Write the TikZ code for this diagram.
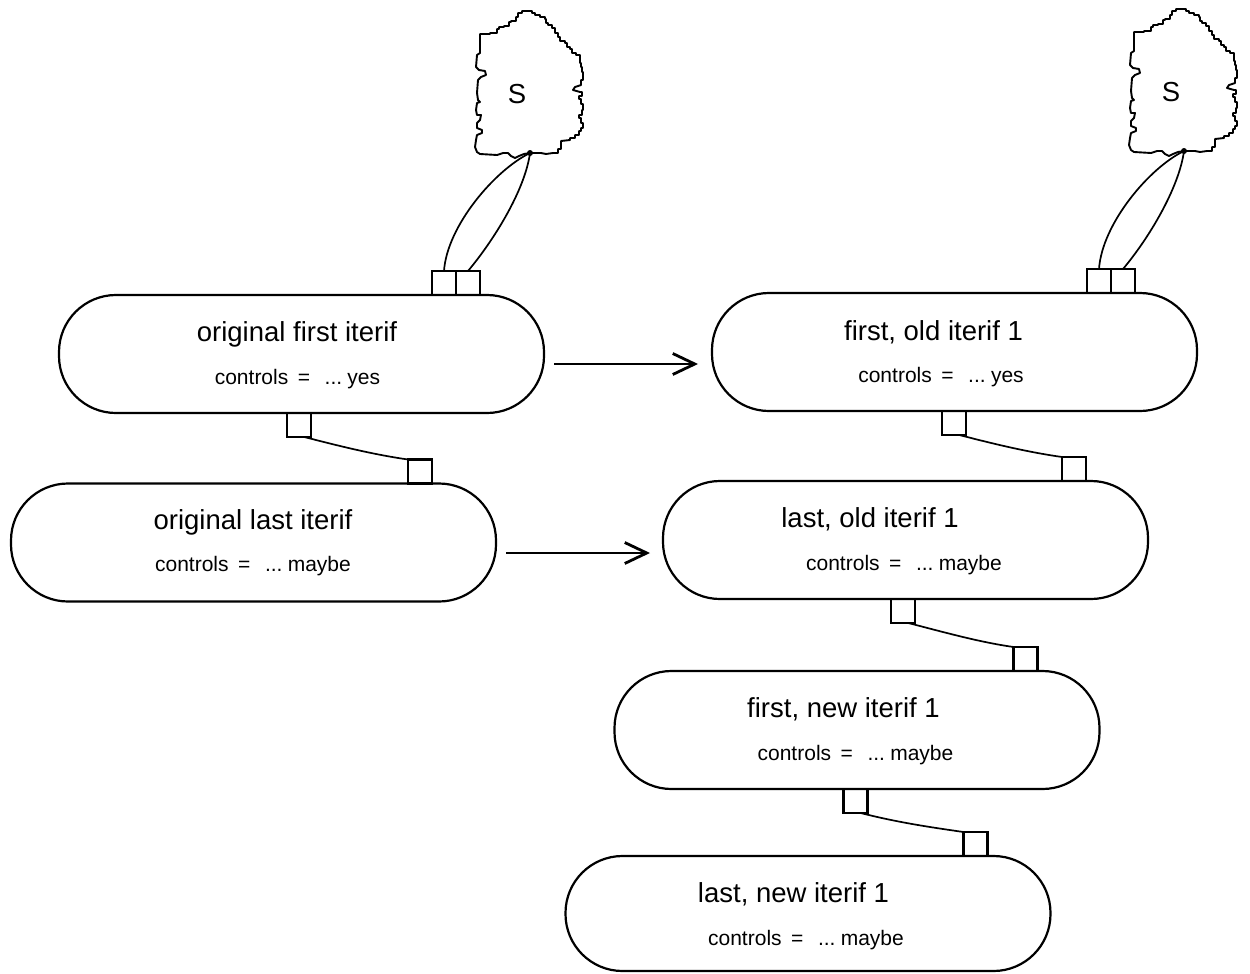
\documentclass[tikz,border=0pt]{standalone}
\usepackage{fontspec}
\setmainfont{Liberation Sans}
\usetikzlibrary{calc,arrows.meta}
% the "controls = ... value" line, with its wide spacing around the equals sign
\newcommand\ctrlval[1]{controls\hspace{0.45em}=\hspace{0.7em}...\hspace{0.25em}#1}
\begin{document}
\begin{tikzpicture}[x=1pt,y=-1pt,
  pill/.style={draw, line width=2.2pt, minimum width=485pt, minimum height=118pt,
    rounded corners=57pt, inner sep=0pt, outer sep=0pt},
  port/.style={draw, line width=2.2pt, minimum size=24pt, inner sep=0pt, outer sep=0pt},
  title/.style={anchor=base, inner sep=0pt, font=\fontsize{27.5}{32}\selectfont},
  sub/.style={anchor=base, inner sep=0pt, font=\fontsize{21}{24}\selectfont},
  link/.style={line width=1.7pt},
  flow/.style={line width=1.9pt, -{Straight Barb[length=22pt,width=21pt,line width=2.8pt]}},
  blobline/.style={line width=1.9pt, line join=round},
  dot/.style={circle, fill, inner sep=0pt, minimum size=6pt},
  letter/.style={font=\fontsize{27.5}{32}\selectfont, inner sep=0pt}
]
\useasboundingbox (0,0) rectangle (1250,974);

% iteration records
\node[pill] (A) at (301.5,354) {};
\node[pill] (B) at (253.5,542.5) {};
\node[pill] (C) at (954.5,352) {};
\node[pill] (D) at (905.5,540) {};
\node[pill] (E) at (857,730) {};
\node[pill, minimum height=115pt] (F) at (808,913.5) {};

% record labels
\node[title] (At) at ($(A.north)+(-4.5,46)$) {original first iterif};
\node[sub]   (As) at ($(A.north)+(-4,89)$)   {\ctrlval{yes}};
\node[title] (Bt1) at ($(B.north)+(-0.5,46)$) {original last iterif};
\node[sub]   (Bs) at ($(B.north)+(-0.5,88)$)  {\ctrlval{maybe}};
\node[title] (Ct) at ($(C.north)+(-21,47)$)  {first, old iterif 1};
\node[sub]   (Cs) at ($(C.north)+(-13.5,89)$) {\ctrlval{yes}};
\node[title] (Dt1) at ($(D.north)+(-35.5,46)$) {last, old iterif 1};
\node[sub]   (Ds) at ($(D.north)+(-1.5,89)$)  {\ctrlval{maybe}};
\node[title] (Et1) at ($(E.north)+(-13.5,46)$) {first, new iterif 1};
\node[sub]   (Es) at ($(E.north)+(-1.5,89)$)  {\ctrlval{maybe}};
\node[title] (Ft1) at ($(F.north)+(-14.5,46)$) {last, new iterif 1};
\node[sub]   (Fs) at ($(F.north)+(-2,89)$)    {\ctrlval{maybe}};

% ports on top of the first records
\node[port, anchor=south west] (A1) at ($(A.north west)+(373,0)$) {};
\node[port, anchor=south west] (A2) at (A1.south east) {};
\node[port, anchor=south west] (C1) at ($(C.north west)+(375,0)$) {};
\node[port, anchor=south west] (C2) at (C1.south east) {};

% chaining ports
\node[port, anchor=north west] (Ab) at ($(A.south west)+(228,0)$) {};
\node[port, anchor=south west] (Bt) at ($(B.north west)+(397,0)$) {};
\node[port, anchor=north west] (Cb) at ($(C.south west)+(230,0)$) {};
\node[port, anchor=south west] (Dt) at ($(D.north west)+(399,0)$) {};
\node[port, anchor=north west] (Db) at ($(D.south west)+(228,0)$) {};
\node[port, anchor=south west] (Et) at ($(E.north west)+(399,0)$) {};
\node[port, anchor=north west] (Eb) at ($(E.south west)+(229,0)$) {};
\node[port, anchor=south west] (Ft) at ($(F.north west)+(398,0)$) {};

% links between consecutive records
\foreach \lo/\up in {Ab/Bt, Cb/Dt, Db/Et, Eb/Ft}{
  \draw[link] ($(\lo.south west)!0.72!(\lo.south east)$)
    .. controls ($(\lo.south west)!0.72!(\lo.south east)+(35,9)$)
    and ($(\up.north west)+(-35,-5)$) .. (\up.north west);
}

% transformation arrows
\draw[flow] ($(A.east)+(10,10)$) -- ($(A.east -| C.west)+(-14,10)$);
\draw[flow] ($(B.east)+(10,10.5)$) -- ($(B.east -| D.west)+(-13,10.5)$);

% the statement blobs S
\foreach \sx/\sy/\nm in {0/0/A, 654/-2/C}{
  \begin{scope}[shift={(\sx,\sy)}]
    \draw[blobline] (480,154) -- (497,155) -- (503,153) -- (508,153) -- (511,156)
      -- (515,158) -- (519,156) -- (524,154) -- (530,153) -- (541,153) -- (546,154)
      -- (553,153) -| (558,149) -| (561,141) -- (570,140) |- (575,138) |- (579,135)
      |- (581,131) |- (583,128)
      |- (581,123) |- (579,118) |- (582,115) |- (583,110) |- (581,104) |- (579,99)
      |- (582,96) |- (580,92) -- (573,90) -- (575,87) -- (581,85) |- (583,80)
      |- (582,72) |- (581,67) |- (580,63) |- (580,57) |- (576,55) |- (572,53)
      |- (570,49) |- (567,47) |- (565,43) |- (560,41) |- (558,37) |- (555,33)
      |- (552,28) |- (548,25) |- (546,23) |- (545,19) |- (540,17) |- (535,15)
      |- (532,13) |- (527,11)
      -| (522,13) -| (518,17) -| (516,21) -| (511,22) -| (509,26) -| (504,27)
      -| (499,29) -| (497,33) -| (490,34) -| (483,34) -| (480,38)
      -- (480,53) -- (477,55) -- (476,67) -- (479,70) -- (485,71) -- (486,75)
      -- (481,77) -- (478,80) -- (477,93) -- (478,100) -- (480,102) -- (477,103)
      -- (476,110) -- (477,115) -- (481,115) -- (480,120) -- (477,123) -- (477,128)
      -- (482,130) -- (482,133) -- (477,135) -- (476,140) -- (475,147) -- (477,152)
      -- cycle;
    \node[dot] (dot\nm) at (530,153) {};
    \node[letter] (S\nm) at (517,94) {S};
  \end{scope}
}

% statement to record ports
\foreach \nm in {A, C}{
  \draw[link] (\nm1.north) .. controls ($(\nm1.north)+(3,-45)$)
    and ($(dot\nm.center)+(-35,17)$) .. (dot\nm.center);
  \draw[link] (\nm2.north) .. controls ($(\nm2.north)+(26,-31)$)
    and ($(dot\nm.center)+(-5,37)$) .. (dot\nm.center);
}
\end{tikzpicture}
\end{document}
